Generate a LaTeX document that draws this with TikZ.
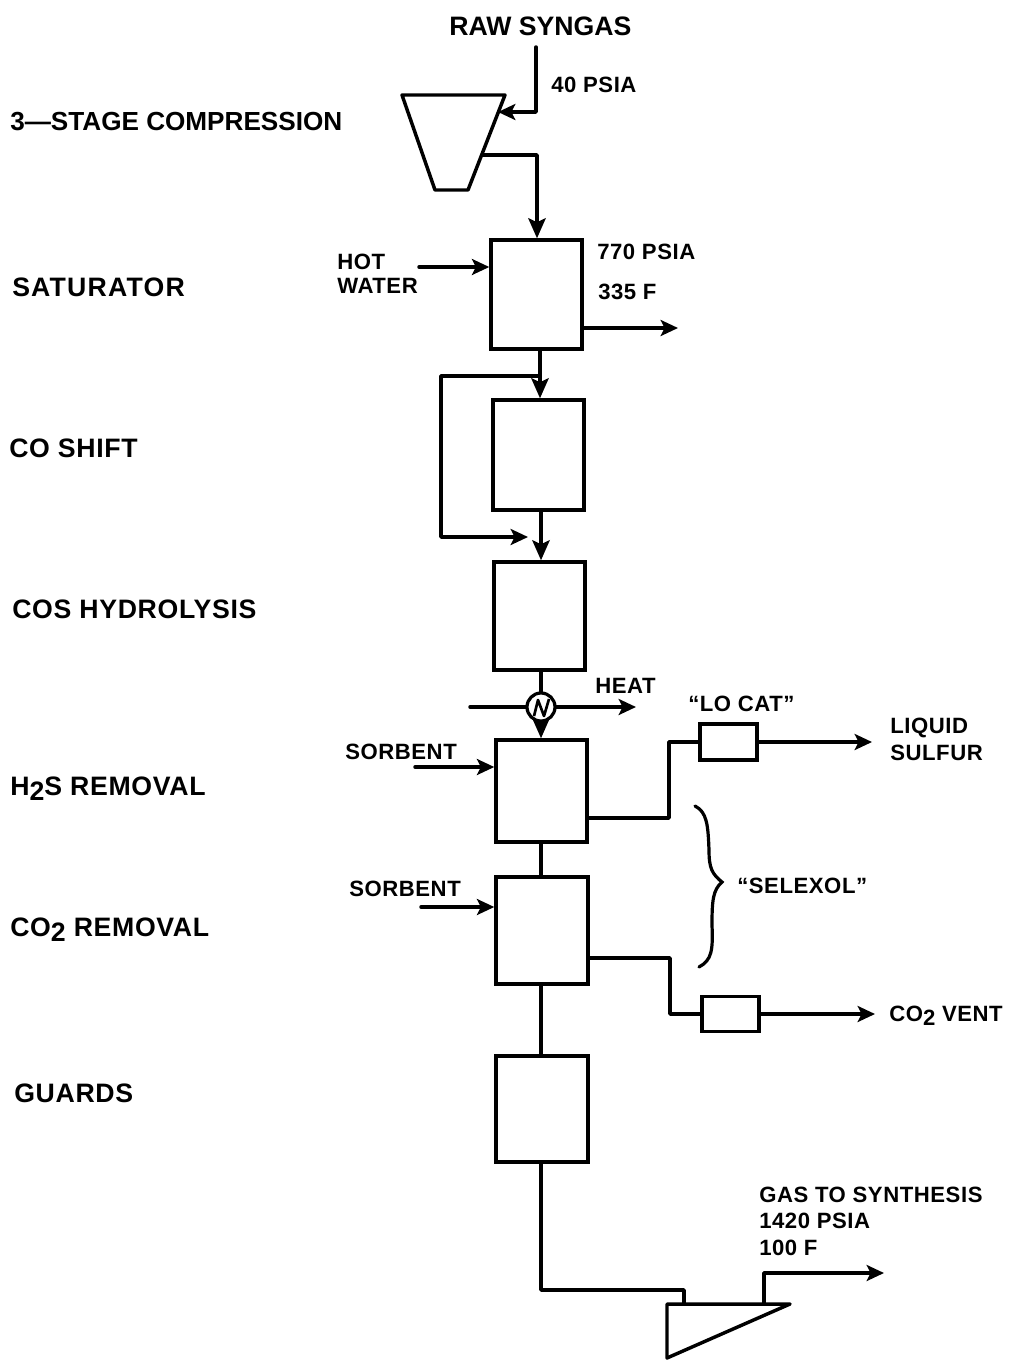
\documentclass[tikz,border=0pt]{standalone}
\usepackage{fontspec}
\setmainfont{Liberation Sans}[BoldFont={Liberation Sans Bold}]
\usetikzlibrary{arrows.meta,calc}
\newcommand{\sbs}[1]{\raisebox{-0.22em}{#1}}
\tikzset{
  x=0.75pt,y=-0.75pt,
  flow/.style={line width=2.6pt,line join=round,line cap=round},
  arr/.style={flow,-{Stealth[length=15pt,width=13pt,inset=3pt]}},
  arrshort/.style={flow,-{Stealth[length=13pt,width=12pt,inset=3pt]}},
  unit/.style={draw,line width=2.6pt,minimum width=0pt,minimum height=0pt,inner sep=0pt,rectangle},
  big/.style={anchor=base west,inner sep=0pt,font=\bfseries\fontsize{20}{20}\selectfont\addfontfeature{LetterSpace=2.5}},
  small/.style={anchor=base west,inner sep=0pt,font=\bfseries\fontsize{16.6}{16.6}\selectfont\addfontfeature{LetterSpace=2.5}},
}
\begin{document}
\begin{tikzpicture}
\useasboundingbox (0,0) rectangle (1012,1360);
% units
\node[unit,minimum width=68.25pt,minimum height=81.75pt] (sat) at (536.5,294.5) {};
\node[unit,minimum width=68.25pt,minimum height=82.5pt] (shift) at (538.5,455) {};
\node[unit,minimum width=68.25pt,minimum height=81pt] (cos) at (539.5,616) {};
\node[unit,minimum width=68.25pt,minimum height=76.5pt] (h2s) at (541.5,791) {};
\node[unit,minimum width=69pt,minimum height=80.25pt] (co2) at (542,930.5) {};
\node[unit,minimum width=69pt,minimum height=79.5pt] (guards) at (542,1109) {};
\node[unit,minimum width=42.75pt,minimum height=27pt] (locat) at (728.5,742) {};
\node[unit,minimum width=42.75pt,minimum height=26.25pt] (ventbox) at (730.5,1014) {};
\node[draw,line width=2.4pt,circle,inner sep=0pt,minimum size=21pt] (hx) at (541,707) {};
% compressor and expander outlines
\coordinate (c1) at (402,95); \coordinate (c2) at (505,95);
\coordinate (c3) at (468,190); \coordinate (c4) at (435,190);
\draw[flow] (c1) -- (c2) -- (c3) -- (c4) -- cycle;
\coordinate (t1) at (667,1304); \coordinate (t2) at (790,1304); \coordinate (t3) at (667,1358);
\draw[flow] (t1) -- (t2) -- (t3) -- cycle;
% free ends
\coordinate (rawtop) at (536,47);
\coordinate (rawin) at (498,112);
\coordinate (cout) at (482,155);
\coordinate (hotw) at (419,267);
\coordinate (satout) at (678,328);
\coordinate (hxl) at (470,707);
\coordinate (hxr) at (636,707);
\coordinate (sb1) at (415,767);
\coordinate (sb2) at (421,907);
\coordinate (sulfur) at (872,742);
\coordinate (vent) at (875,1014);
\coordinate (synth) at (884,1273);
% connectors
\draw[arrshort] (rawtop) |- (rawin);
\draw[arr] (cout) -| (sat.north -| 537,0);
\draw[arrshort] (hotw) -- (sat.west |- hotw);
\draw[arrshort] (sat.east |- satout) -- (satout);
\draw[arr] (sat.south -| 540,0) -- (shift.north -| 540,0);
\draw[arrshort] (540,376) -| (441,537) -- (528,537);
\draw[arr] (shift.south -| 541,0) -- (cos.north -| 541,0);
\draw[flow] (cos.south -| hx) -- (hx.north);
\draw[arr] (hx.south) -- (h2s.north -| hx);
\draw[flow] (hxl) -- (hx.west);
\draw[arrshort] (hx.east) -- (hxr);
\draw[line width=2pt,line join=round] (534,716) -- (538,700) -- (544,716) -- (549,699);
\draw[arrshort] (sb1) -- (h2s.west |- sb1);
\draw[arrshort] (sb2) -- (co2.west |- sb2);
\draw[flow] (h2s.east |- 0,818) -| (669,742) -- (locat.west);
\draw[arrshort] (locat.east) -- (sulfur);
\draw[flow] (h2s.south -| 541,0) -- (co2.north -| 541,0);
\draw[flow] (co2.east |- 0,958) -| (670,1014) -- (ventbox.west);
\draw[arrshort] (ventbox.east) -- (vent);
\draw[flow] (co2.south -| 541,0) -- (guards.north -| 541,0);
\draw[flow] (guards.south -| 541,0) |- (684,1290) -- (684,1304);
\draw[arrshort] (764,1304) |- (synth);
% brace
\draw[line width=2.4pt,line cap=round] (695,806) .. controls (707,812) and (708,825) .. (709,850)
  .. controls (709,868) and (712,874) .. (722,882)
  .. controls (713,890) and (712,900) .. (712,925)
  .. controls (713,950) and (712,960) .. (699,967);
% labels
\node[big,font=\bfseries\fontsize{20}{20}\selectfont] (lraw) at (449,35) {RAW SYNGAS};
\node[small] (l40) at (551,92) {40 PSIA};
\node[big,font=\bfseries\fontsize{19.6}{20}\selectfont] (lcomp) at (10,130) {3—STAGE COMPRESSION};
\node[big,font=\bfseries\fontsize{20}{20}\selectfont\addfontfeature{LetterSpace=4.5}] (lsat) at (12,296) {SATURATOR};
\node[big] (lshift) at (9,457) {CO SHIFT};
\node[big] (lcos) at (12,618) {COS HYDROLYSIS};
\node[big] (lh2s) at (10,795) {H\sbs{2}S REMOVAL};
\node[big] (lco2) at (10,936) {CO\sbs{2} REMOVAL};
\node[big] (lguards) at (14,1102) {GUARDS};
\node[small] (lhot) at (337,269) {HOT};
\node[small] (lwater) at (337,293) {WATER};
\node[small] (l770) at (597,259) {770 PSIA};
\node[small] (l335) at (598,299) {335 F};
\node[small] (lheat) at (595,693) {HEAT};
\node[small] (llo) at (688,711) {“LO CAT”};
\node[small] (lliq) at (890,733) {LIQUID};
\node[small] (lsul) at (890,760) {SULFUR};
\node[small] (ls1) at (345,759) {SORBENT};
\node[small] (ls2) at (349,896) {SORBENT};
\node[small] (lsel) at (737,893) {“SELEXOL”};
\node[small] (lvent) at (889,1021) {CO\sbs{2} VENT};
\node[small] (lgas) at (759,1202) {GAS TO SYNTHESIS};
\node[small] (l1420) at (759,1228) {1420 PSIA};
\node[small] (l100) at (759,1255) {100 F};
\end{tikzpicture}
\end{document}
